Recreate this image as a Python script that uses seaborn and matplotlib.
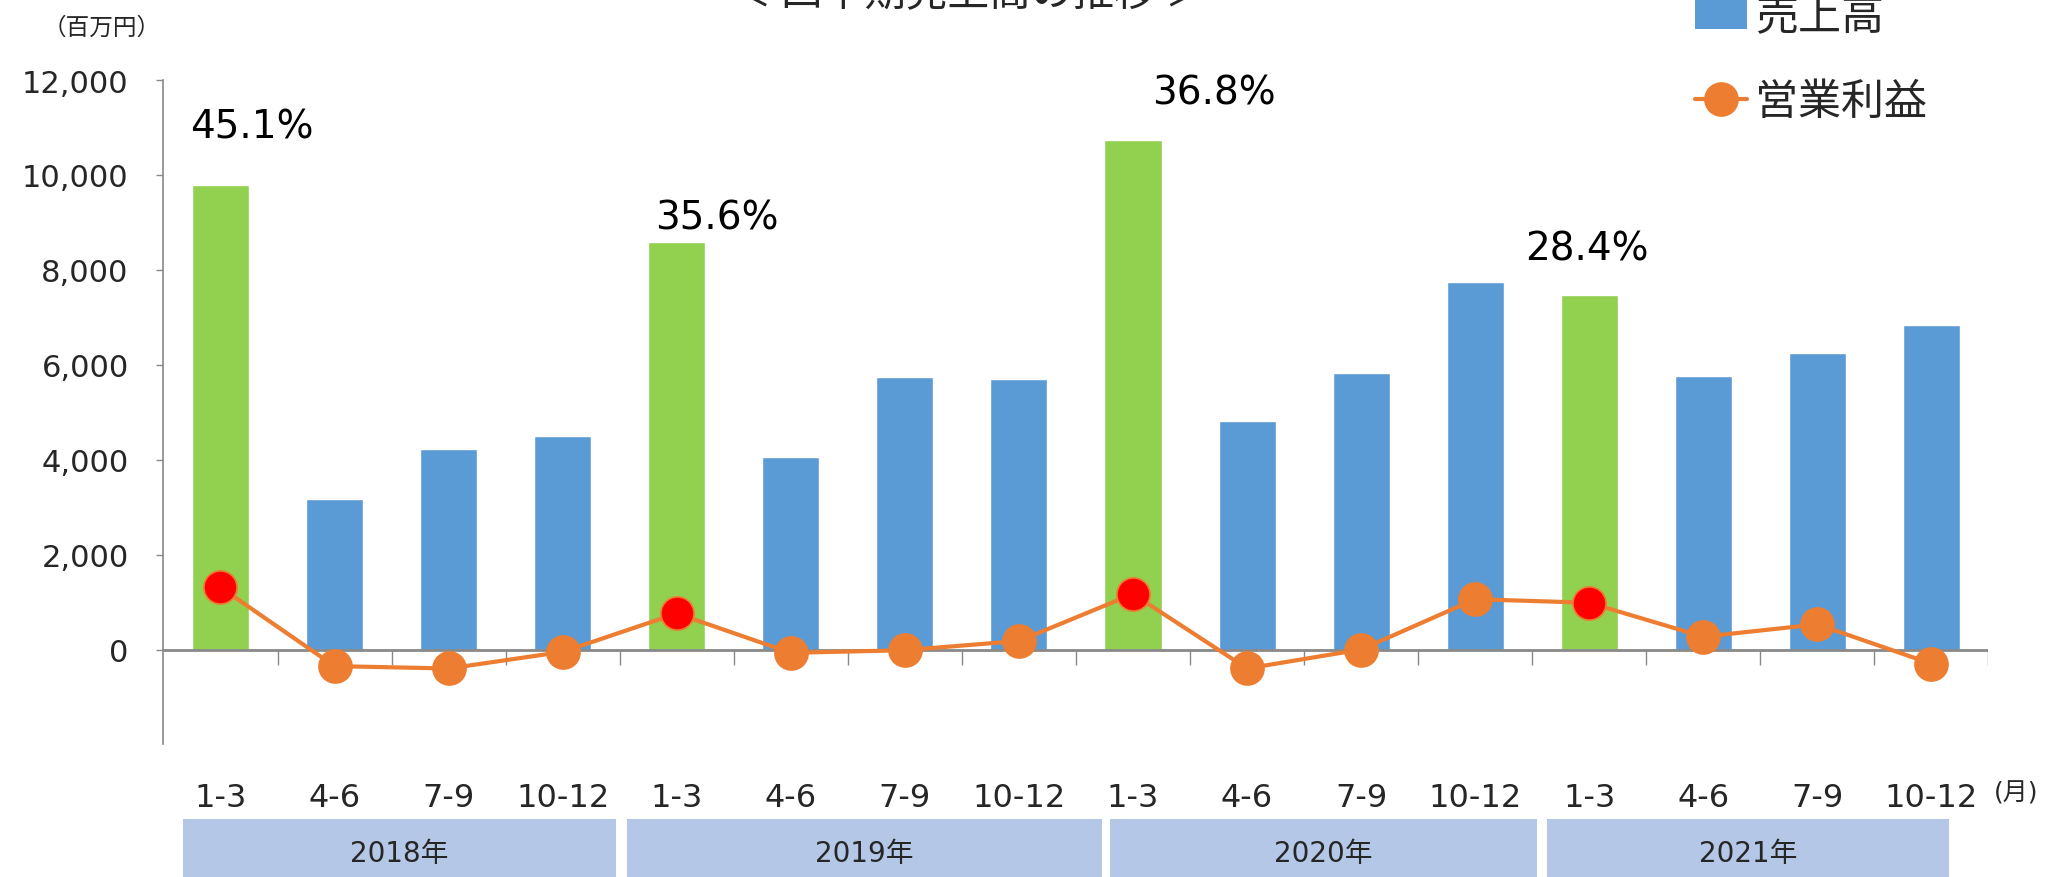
import pandas as pd
import matplotlib.pyplot as plt
import matplotlib.transforms as mtransforms
from matplotlib.patches import Rectangle, Patch
from matplotlib.lines import Line2D
import seaborn as sns

sns.set_theme(style="white")
plt.rcParams['font.family'] = ['DejaVu Sans', 'Noto Sans CJK JP']
CJK = ['Noto Sans CJK JP', 'DejaVu Sans']

# データ（百万円）
quarters = ["1-3", "4-6", "7-9", "10-12"] * 4
years = ["2018年", "2019年", "2020年", "2021年"]
sales = [9780, 3170, 4220, 4500, 8580, 4050, 5740, 5690,
         10730, 4820, 5820, 7750, 7480, 5770, 6240, 6840]
profit = [1310, -350, -400, -50, 760, -70, -15, 180,
          1170, -400, 0, 1060, 985, 270, 530, -300]
q1_share = ["45.1%", "35.6%", "36.8%", "28.4%"]

BLUE = "#5b9bd5"
GREEN = "#92d050"
ORANGE = "#ed7d31"
RED = "#ff0000"

df = pd.DataFrame({
    "idx": range(len(sales)),
    "quarter": quarters,
    "sales": sales,
    "profit": profit,
})
df["is_q1"] = df["quarter"] == "1-3"
bar_colors = {i: (GREEN if q1 else BLUE) for i, q1 in zip(df["idx"], df["is_q1"])}

fig = plt.figure(figsize=(20.51, 8.78), dpi=100)
ax = fig.add_axes([0.0797, 0.151, 0.8898, 0.7567])

sns.barplot(data=df, x="idx", y="sales", hue="idx", palette=bar_colors,
            width=0.5, legend=False, saturation=1, ax=ax, zorder=2)

sns.lineplot(data=df, x="idx", y="profit", color=ORANGE, linewidth=3,
             marker="o", markersize=25, markeredgewidth=0, ax=ax, zorder=3)
sns.scatterplot(data=df[df["is_q1"]], x="idx", y="profit", color=RED,
                s=560, edgecolor=ORANGE, linewidth=1, ax=ax, zorder=4)

ax.set_xlim(-0.5, len(sales) - 0.5)
ax.set_ylim(-2000, 12000)
ax.set_yticks(range(0, 12001, 2000))
ax.set_yticklabels([f"{v:,}" for v in range(0, 12001, 2000)], fontsize=22)
ax.tick_params(axis="y", left=True, length=5, width=1, color="#898989", pad=20)

ax.set_xticks(df["idx"])
ax.set_xticklabels(quarters, fontsize=23)
ax.tick_params(axis="x", bottom=False, length=0, pad=27)
ax.set_xlabel("")
ax.set_ylabel("")

for s in ["top", "right", "bottom"]:
    ax.spines[s].set_visible(False)
ax.spines["left"].set_color("#898989")
ax.spines["left"].set_linewidth(1.2)

# 0 の横軸と区切りの目盛
ax.axhline(0, color="#898989", linewidth=2, zorder=2.5)
ax.vlines([i + 0.5 for i in range(len(sales))], -330, 0,
          color="#898989", linewidth=1, zorder=1)

# 第1四半期の構成比
offsets = [(31, 59), (40, 25), (81, 48), (-2, 46)]
q1_idx = df.index[df["is_q1"]].tolist()
for i, label, off in zip(q1_idx, q1_share, offsets):
    ax.annotate(label, xy=(i, sales[i]), xytext=off, textcoords="offset pixels",
                ha="center", va="center", fontsize=28, color="black")

# 年の帯
trans = mtransforms.blended_transform_factory(ax.transData, ax.transAxes)
band_edges = [(-0.33, 3.47), (3.56, 7.73), (7.80, 11.54), (11.63, 15.15)]
for yr, (x0, x1) in zip(years, band_edges):
    ax.add_patch(Rectangle((x0, -0.2), x1 - x0, 0.087, transform=trans,
                           facecolor="#b4c7e7", edgecolor="none", clip_on=False))
    ax.text((x0 + x1) / 2, -0.164, yr, transform=trans, ha="center",
            va="center", fontsize=20)

ax.text(1.015, -0.072, "(月)", transform=ax.transAxes, ha="center",
        va="center", fontsize=18)
fig.text(0.0497, 0.968, "（百万円）", ha="center", va="center", fontsize=17,
         family=CJK)

fig.text(0.472, 0.983, "＜ 四半期売上高の推移 ＞", ha="center", va="bottom",
         fontsize=30, family=CJK)

handles = [
    Patch(facecolor=BLUE, edgecolor="none"),
    Line2D([0], [0], color=ORANGE, linewidth=3, marker="o", markersize=25,
           markeredgewidth=0),
]
fig.legend(handles, ["売上高", "営業利益"], loc="upper left",
           bbox_to_anchor=(0.818, 1.024), frameon=False,
           prop={"family": CJK, "size": 31},
           handlelength=1.2, handletextpad=0.2, labelspacing=0.95,
           borderaxespad=0)

fig.savefig("out.png", dpi=100)
